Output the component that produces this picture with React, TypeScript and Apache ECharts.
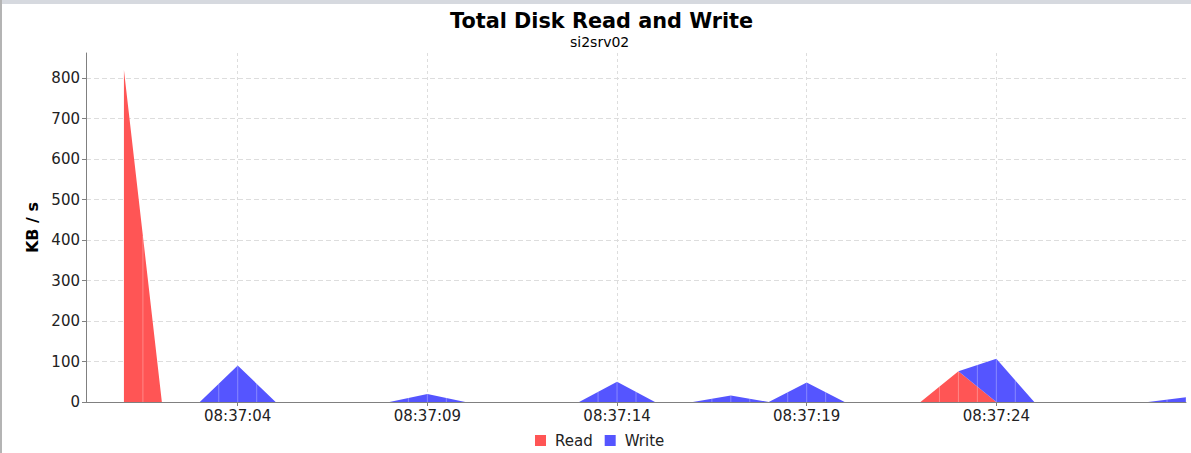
import React, { useEffect, useRef } from "react";
import * as echarts from "echarts";

const axisStart = "08:37:00";
const times = [
  "08:37:01", "08:37:02", "08:37:03", "08:37:04", "08:37:05", "08:37:06", "08:37:07", "08:37:08",
  "08:37:09", "08:37:10", "08:37:11", "08:37:12", "08:37:13", "08:37:14", "08:37:15", "08:37:16",
  "08:37:17", "08:37:18", "08:37:19", "08:37:20", "08:37:21", "08:37:22", "08:37:23", "08:37:24",
  "08:37:25", "08:37:26", "08:37:27", "08:37:28", "08:37:29",
];
const readValues = [
  820, 0, 0, 0, 0, 0, 0, 0,
  0, 0, 0, 0, 0, 0, 0, 0,
  0, 0, 0, 0, 0, 0, 76, 0,
  0, 0, 0, 0, 0,
];
const writeValues = [
  0, 0, 0, 90, 0, 0, 0, 0,
  20, 0, 0, 0, 0, 50, 0, 0,
  16, 0, 48, 0, 0, 0, 0, 107,
  0, 0, 0, 0, 12,
];
const xTickLabels = ["08:37:04", "08:37:09", "08:37:14", "08:37:19", "08:37:24"];
const yTickValues = [0, 100, 200, 300, 400, 500, 600, 700, 800];

const FONT = "DejaVu Sans";
const RED = "#ff5555";
const BLUE = "#5555ff";

export default function App() {
  const ref = useRef<HTMLDivElement>(null);
  useEffect(() => {
    if (!ref.current) return;
    const chart = echarts.init(ref.current, null, { renderer: "svg" });
    const categories = [axisStart, ...times];
    const read = [null, ...readValues];
    const write = [null, ...writeValues];
    const isTick = (_i: number, v: string) => xTickLabels.indexOf(v) >= 0;

    // seams between the half-step polygons (as JFreeChart's renderer leaves)
    const renderSeams = (params: any, api: any) => {
      const i = params.dataIndex;
      const children: any[] = [];
      const addSeam = (x: number, r: number, t: number) => {
        const y0 = api.coord([0, 0])[1];
        const yr = api.coord([0, r])[1];
        const yt = api.coord([0, t])[1];
        if (r > 0) children.push({ type: "line", shape: { x1: x, y1: y0, x2: x, y2: yr }, style: { stroke: "rgba(255,255,255,0.3)", lineWidth: 1 } });
        if (t > r) children.push({ type: "line", shape: { x1: x, y1: yr, x2: x, y2: yt }, style: { stroke: "rgba(255,255,255,0.3)", lineWidth: 1 } });
      };
      if (read[i] == null) return { type: "group", children };
      const xi = api.coord([i, 0])[0];
      if (i > 0 && read[i - 1] != null) {
        addSeam(xi, read[i] as number, (read[i] as number) + (write[i] as number));
      }
      if (i + 1 < categories.length && read[i + 1] != null) {
        const xn = api.coord([i + 1, 0])[0];
        const rm = ((read[i] as number) + (read[i + 1] as number)) / 2;
        const wm = ((write[i] as number) + (write[i + 1] as number)) / 2;
        addSeam((xi + xn) / 2, rm, rm + wm);
      }
      return { type: "group", children };
    };

    chart.setOption({
      animation: false,
      backgroundColor: "#ffffff",
      color: [RED, BLUE],
      title: [
        {
          text: "Total Disk Read and Write",
          left: 445,
          top: 5,
          textStyle: { fontFamily: FONT, fontSize: 20.8, fontWeight: "bold", color: "#000" },
        },
        {
          text: "si2srv02",
          left: 565,
          top: 30,
          textStyle: { fontFamily: FONT, fontSize: 14, fontWeight: "normal", color: "#000" },
        },
      ],
      legend: {
        bottom: 0,
        left: 530,
        icon: "rect",
        itemWidth: 11,
        itemHeight: 11,
        itemGap: 12,
        textStyle: { fontFamily: FONT, fontSize: 15, color: "#222", padding: [0, 0, 0, 4] },
        data: ["Read", "Write"],
      },
      grid: { left: 86, right: 5, top: 53, bottom: 51, containLabel: false },
      xAxis: {
        type: "category",
        boundaryGap: false,
        data: categories,
        axisLine: { lineStyle: { color: "#808080", width: 1 } },
        axisTick: { show: true, interval: isTick, length: 4, lineStyle: { color: "#808080" } },
        axisLabel: {
          interval: isTick,
          fontFamily: FONT,
          fontSize: 15,
          color: "#222",
          margin: 6,
        },
        splitLine: { show: true, interval: isTick, lineStyle: { color: "#dddddd", type: [3, 3], width: 1 } },
      },
      yAxis: {
        type: "value",
        min: 0,
        max: 862,
        name: "KB / s",
        nameLocation: "middle",
        nameGap: 46,
        nameTextStyle: { fontFamily: FONT, fontSize: 16, fontWeight: "bold", color: "#000" },
        axisLine: { show: true, lineStyle: { color: "#808080", width: 1 } },
        axisTick: { show: true, customValues: yTickValues, length: 4, lineStyle: { color: "#808080" } },
        axisLabel: {
          customValues: yTickValues,
          fontFamily: FONT,
          fontSize: 15,
          color: "#222",
          margin: 6,
        },
        splitLine: { show: true, lineStyle: { color: "#dddddd", type: [5, 3], width: 1 } },
      },
      series: [
        {
          name: "Read",
          type: "line",
          stack: "total",
          showSymbol: false,
          symbol: "none",
          lineStyle: { width: 0 },
          areaStyle: { color: RED, opacity: 1 },
          itemStyle: { color: RED },
          data: read.map((v) => (v == null ? "-" : v)),
        },
        {
          name: "Write",
          type: "line",
          stack: "total",
          showSymbol: false,
          symbol: "none",
          lineStyle: { width: 0 },
          areaStyle: { color: BLUE, opacity: 1 },
          itemStyle: { color: BLUE },
          data: write.map((v) => (v == null ? "-" : v)),
        },
        {
          name: "seams",
          type: "custom",
          z: 5,
          silent: true,
          renderItem: renderSeams,
          data: categories.map((_c, i) => [i, 0]),
        },
      ],
      graphic: [
        { type: "rect", left: 0, top: 0, shape: { width: 1191, height: 4 }, style: { fill: "#d6d9df" } },
        { type: "rect", left: 0, top: 0, shape: { width: 2, height: 453 }, style: { fill: "#b4b4b4" } },
      ],
    });
    return () => chart.dispose();
  }, []);
  return (
    <div
      ref={ref}
      style={{ position: "absolute", left: 0, top: 0, width: 1191, height: 453 }}
    />
  );
}
